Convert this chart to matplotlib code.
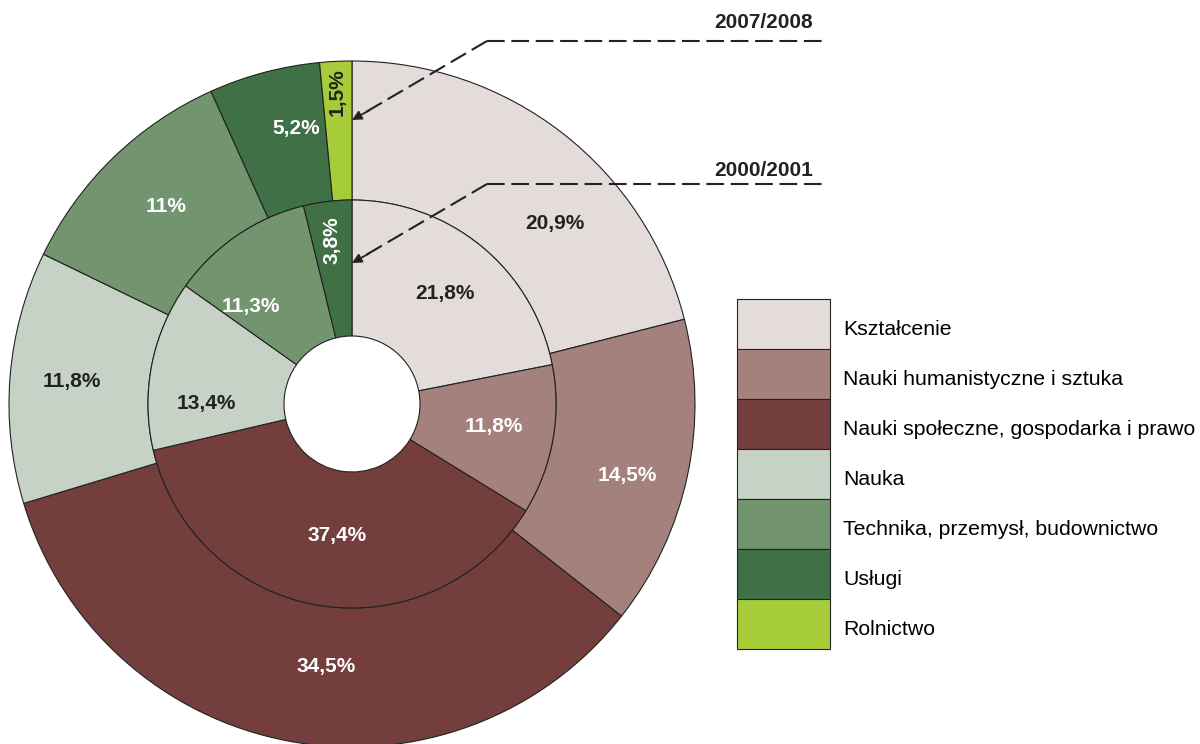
import numpy as np
import matplotlib.pyplot as plt

categories = ['Kształcenie', 'Nauki humanistyczne i sztuka',
              'Nauki społeczne, gospodarka i prawo', 'Nauka',
              'Technika, przemysł, budownictwo', 'Usługi', 'Rolnictwo']
colors = ['#E3DCDA', '#A4817D', '#743E3D', '#C7D2C6', '#72946F', '#3F7046', '#A6CD39']

# 2007/2008 (outer ring)
outer_vals = [20.9, 14.5, 34.5, 11.8, 11.0, 5.2, 1.5]
outer_txt = ['20,9%', '14,5%', '34,5%', '11,8%', '11%', '5,2%', '1,5%']
# 2000/2001 (inner ring), no Rolnictwo slice
inner_vals = [21.8, 11.8, 37.4, 13.4, 11.3, 3.8]
inner_txt = ['21,8%', '11,8%', '37,4%', '13,4%', '11,3%', '3,8%']

txt_col = ['#222222', 'white', 'white', '#222222', 'white', 'white', '#222222']

# label placement tweaks: (angle offset in deg, radius, rotation)
outer_pos = [(-10.5, 0.79, 0), (-2.5, 0.83, 0), (5, 0.77, 0), (0, 0.82, 0),
             (-1, 0.79, 0), (-3.5, 0.82, 0), (0, 0.91, 90)]
inner_pos = [(-0.5, 0.42, 0), (1.2, 0.42, 0), (2.7, 0.385, 0), (11, 0.425, 0),
             (12, 0.41, 0), (0, 0.48, 90)]

fig = plt.figure(figsize=(12, 7.44), dpi=100)
W, H = 1200, 744
cx, cy, R = 352, 404, 343
ax = fig.add_axes([(cx - R) / W, (H - cy - R) / H, 2 * R / W, 2 * R / H])
ax.axis('off')

r_in_out = 204 / R
r_hole = 68 / R
edge = dict(edgecolor='#222222', linewidth=0.8)

wo, _ = ax.pie(outer_vals, radius=1.0, colors=colors, startangle=90, counterclock=False,
               wedgeprops=dict(width=1.0 - r_in_out, **edge))
wi, _ = ax.pie(inner_vals, radius=r_in_out, colors=colors[:6], startangle=90, counterclock=False,
               wedgeprops=dict(width=r_in_out - r_hole, **edge))
ax.set_xlim(-1, 1)
ax.set_ylim(-1, 1)
ax.set_aspect('equal')


def put_labels(wedges, texts, pos):
    for i, (w, t) in enumerate(zip(wedges, texts)):
        da, rr, rot = pos[i]
        a = np.deg2rad((w.theta1 + w.theta2) / 2 + da)
        ax.text(rr * np.cos(a), rr * np.sin(a), t, ha='center', va='center',
                rotation=rot, color=txt_col[i], fontsize=15,
                fontweight='bold', family='Liberation Sans')


put_labels(wo, outer_txt, outer_pos)
put_labels(wi, inner_txt, inner_pos)

# year pointers
dash = (0, (8.5, 3.2))
for label, y_line, y_txt, y_tip in [('2007/2008', (cy - 41) / R, (cy - 22) / R, (cy - 120) / R),
                                    ('2000/2001', (cy - 184) / R, (cy - 170) / R, (cy - 263) / R)]:
    x0 = (487 - cx) / R
    x1 = (828 - cx) / R
    ax.plot([x0, x1], [y_line, y_line], ls=dash, lw=1.5, color='#222222', clip_on=False)
    ax.plot([x0, 0.03], [y_line, y_tip + 0.017], ls=dash, lw=1.5, color='#222222', clip_on=False)
    ax.annotate('', xy=(0.0, y_tip), xytext=(0.05, y_tip + 0.028),
                arrowprops=dict(arrowstyle='-|>', color='#222222', lw=1.3,
                                mutation_scale=14, shrinkA=0, shrinkB=0),
                annotation_clip=False)
    ax.text((813 - cx) / R, y_txt, label, ha='right', va='center',
            fontsize=15, fontweight='bold', family='Liberation Sans', color='#222222')

leg = fig.legend(wo, categories, loc='upper left', bbox_to_anchor=(737 / W, 1 - 299 / H),
                 frameon=False, prop={'family': 'Liberation Sans', 'size': 15.3},
                 handlelength=4.38, handleheight=3.24, labelspacing=0, handletextpad=0.61,
                 borderpad=0, borderaxespad=0)
for t in leg.get_texts():
    t.set_y(-5)

fig.savefig('out.png', dpi=100)
